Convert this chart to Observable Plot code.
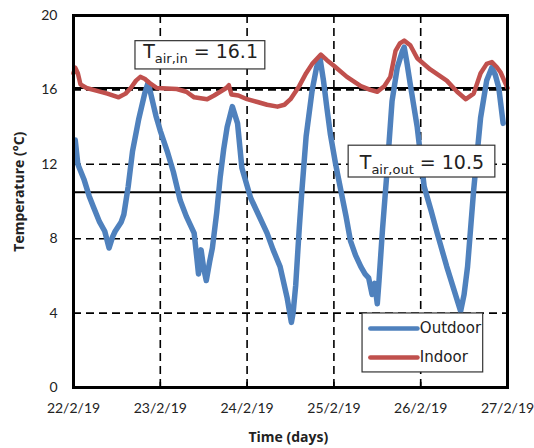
<!DOCTYPE html>
<html><head><meta charset="utf-8">
<script src="https://cdn.jsdelivr.net/npm/d3@7"></script>
<script src="https://cdn.jsdelivr.net/npm/@observablehq/plot@0.6"></script>
<style>body{margin:0;background:#fff}</style>
</head><body><div id="chart"></div>
<script>
const xTicks = [0, 1, 2, 3, 4, 5];
const xTickLabels = ["22/2/19", "23/2/19", "24/2/19", "25/2/19", "26/2/19", "27/2/19"];
const yTicks = [0, 4, 8, 12, 16, 20];
const gridY = [4, 8, 12, 16];
const gridX = [1, 2, 3, 4];
const meanLines = [16.1, 10.5];
const seriesNames = ["Outdoor", "Indoor"];
const seriesColors = ["#4f81bd", "#c0504d"];

const outdoorDay = [0.02,0.05,0.12,0.18,0.23,0.30,0.36,0.41,0.45,0.48,0.55,0.58,0.63,0.68,0.75,0.82,0.86,0.90,0.95,1.00,1.08,1.15,1.23,1.30,1.39,1.42,1.44,1.47,1.50,1.53,1.57,1.60,1.65,1.69,1.73,1.77,1.83,1.89,1.94,2.04,2.13,2.23,2.30,2.38,2.46,2.51,2.53,2.56,2.60,2.63,2.68,2.75,2.80,2.84,2.88,2.92,2.96,3.02,3.08,3.14,3.19,3.25,3.31,3.36,3.40,3.44,3.47,3.50,3.52,3.56,3.61,3.67,3.73,3.79,3.81,3.84,3.88,3.96,4.04,4.12,4.19,4.30,4.38,4.46,4.50,4.54,4.61,4.69,4.76,4.82,4.86,4.90,4.95];
const outdoorTemp = [13.3,12.0,11.2,10.3,9.7,8.9,8.4,7.5,8.1,8.4,8.9,9.3,10.8,12.7,14.4,15.8,16.4,15.6,14.6,13.8,12.7,11.6,10.05,9.2,8.3,7.0,6.1,7.4,6.4,5.75,6.8,7.5,9.4,11.3,12.8,14.0,15.1,14.2,11.8,10.2,9.3,8.3,7.4,6.5,4.85,3.5,4.0,5.5,8.5,10.5,13.5,16.0,17.2,17.7,16.5,15.0,13.6,12.0,10.6,9.2,7.9,7.1,6.5,6.1,5.9,5.0,5.6,4.5,5.75,8.5,11.5,15.4,17.2,18.1,18.3,17.5,16.3,14.0,10.8,9.5,8.3,6.5,5.3,4.1,5.0,6.5,10.6,14.5,16.5,17.2,16.8,16.1,14.2];

const indoorDay = [0.00,0.02,0.05,0.08,0.15,0.23,0.39,0.52,0.60,0.66,0.72,0.77,0.82,0.87,0.96,1.19,1.30,1.39,1.54,1.62,1.69,1.76,1.79,1.82,1.90,2.00,2.12,2.23,2.35,2.43,2.50,2.60,2.68,2.75,2.85,2.92,3.00,3.15,3.31,3.42,3.50,3.58,3.65,3.71,3.76,3.81,3.88,3.96,4.11,4.30,4.42,4.52,4.61,4.69,4.76,4.82,4.88,4.92,5.00];
const indoorTemp = [16.9,17.2,16.9,16.3,16.1,16.0,15.8,15.6,15.8,16.1,16.5,16.7,16.6,16.4,16.1,16.05,15.9,15.6,15.5,15.7,15.9,16.1,16.25,15.75,15.7,15.5,15.35,15.2,15.1,15.2,15.5,16.2,16.9,17.4,17.9,17.6,17.3,16.7,16.2,16.0,15.9,16.2,16.7,18.1,18.5,18.65,18.4,17.7,17.1,16.5,15.9,15.5,15.8,16.9,17.4,17.5,17.2,16.95,16.1];

// annotation boxes (data coords) and texts
const annSub = ["air,in", "air,out"];
const annValue = ["16.1", "10.5"];
const annBox = [{x1: 0.714, x2: 2.21, y1: 17.1, y2: 18.62}, {x1: 3.17, x2: 4.86, y1: 11.29, y2: 13.0}];
const annText = [{x: 1.47, y: 17.69}, {x: 4.02, y: 11.72}];
const legendBox = {x1: 3.33, x2: 4.72, y1: 0.81, y2: 3.98};
const legendRows = [{x1: 3.42, x2: 3.963, tx: 3.99, y: 3.17}, {x1: 3.42, x2: 3.963, tx: 3.99, y: 1.61}];

const outdoor = outdoorDay.map((d, i) => ({day: d, temp: outdoorTemp[i]}));
const indoor = indoorDay.map((d, i) => ({day: d, temp: indoorTemp[i]}));

const dash = "8,5";
const plot = Plot.plot({
  width: 534, height: 448,
  marginLeft: 73, marginRight: 27, marginTop: 15, marginBottom: 61,
  style: {fontFamily: "Lato", fontSize: "14px", color: "#222", background: "#fff"},
  x: {domain: [0, 5], ticks: xTicks, tickFormat: d => xTickLabels[d], tickSize: 0, tickPadding: 16, label: null},
  y: {domain: [0, 20], ticks: yTicks, tickSize: 0, tickPadding: 16, label: null},
  marks: [
    Plot.ruleY(gridY, {y: d => d, stroke: "#000", strokeWidth: 1.6, strokeDasharray: dash}),
    Plot.ruleX(gridX, {x: d => d, stroke: "#000", strokeWidth: 1.6, strokeDasharray: dash}),
    Plot.ruleY(meanLines, {y: d => d, stroke: "#000", strokeWidth: 2}),
    Plot.ruleX(xTicks, {x: d => d, y1: 0, y2: 0.28, stroke: "#000", strokeWidth: 1.6}),
    Plot.line(outdoor, {x: "day", y: "temp", stroke: seriesColors[0], strokeWidth: 5.5, strokeLinejoin: "round"}),
    Plot.line(indoor, {x: "day", y: "temp", stroke: seriesColors[1], strokeWidth: 4.5, strokeLinejoin: "round"}),
    Plot.rect(annBox, {x1: "x1", x2: "x2", y1: "y1", y2: "y2", fill: "#fff", stroke: "#333", strokeWidth: 1.2}),
    Plot.rect([legendBox], {x1: "x1", x2: "x2", y1: "y1", y2: "y2", fill: "#fff", stroke: "#333", strokeWidth: 1.2}),
    Plot.link(legendRows, {x1: "x1", x2: "x2", y1: "y", y2: "y", stroke: (d, i) => seriesColors[i], strokeWidth: 4.5, strokeLinecap: "round"}),
    Plot.text(legendRows, {x: "tx", y: "y", text: (d, i) => seriesNames[i], textAnchor: "start", fontFamily: "DejaVu Sans", fontSize: 15, fill: "#222"}),
    Plot.frame({stroke: "#000", strokeWidth: 3})
  ]
});
document.getElementById("chart").append(plot);
const svg = d3.select(plot);
const sx = plot.scale("x"), sy = plot.scale("y");
annText.forEach((a, i) => {
  const t = svg.append("text")
    .attr("x", sx.apply(a.x)).attr("y", sy.apply(a.y))
    .attr("text-anchor", "middle")
    .attr("font-family", "DejaVu Sans").attr("fill", "#222");
  t.append("tspan").attr("font-size", 19).text("T");
  t.append("tspan").attr("font-size", 13).attr("dy", 5).text(annSub[i]);
  t.append("tspan").attr("font-size", 19).attr("dy", -5).text(" = " + annValue[i]);
});
// axis titles
svg.append("text").attr("transform", `translate(24,${sy.apply(10.5)}) rotate(-90)`)
  .attr("text-anchor", "middle").attr("font-family", "Open Sans").attr("font-weight", 700)
  .attr("font-size", 14).attr("fill", "#222").text("Temperature (°C)");
svg.append("text").attr("x", sx.apply(2.48)).attr("y", 442)
  .attr("text-anchor", "middle").attr("font-family", "Open Sans").attr("font-weight", 700)
  .attr("font-size", 14).attr("fill", "#222").text("Time (days)");
</script>
</body></html>
